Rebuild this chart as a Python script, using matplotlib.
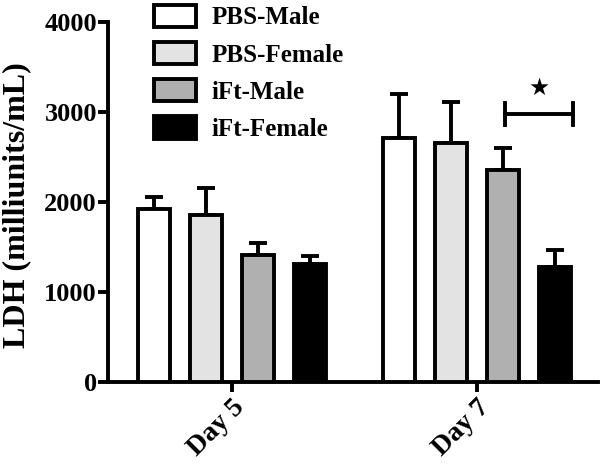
import numpy as np
import matplotlib
matplotlib.use('Agg')
import matplotlib.pyplot as plt

plt.rcParams['font.family'] = ['Liberation Serif', 'DejaVu Sans']
plt.rcParams['font.weight'] = 'bold'

days = ['Day 5', 'Day 7']
groups = ['PBS-Male', 'PBS-Female', 'iFt-Male', 'iFt-Female']
colors = ['white', '#e3e3e3', '#b0b0b0', 'black']

pbs_male = [1925, 2710]
pbs_female = [1860, 2655]
ift_male = [1415, 2355]
ift_female = [1315, 1275]
means = [pbs_male, pbs_female, ift_male, ift_female]

pbs_male_err = [130, 490]
pbs_female_err = [295, 455]
ift_male_err = [130, 245]
ift_female_err = [85, 190]
errs = [pbs_male_err, pbs_female_err, ift_male_err, ift_female_err]

lw = 2.8

fig = plt.figure(figsize=(6, 4.68), dpi=100)
ax = fig.add_axes([0.18, 0.184, 0.817, 0.769])

x = np.arange(len(days))
offsets = [-0.319, -0.106, 0.106, 0.319]
width = 0.132

for i in range(len(groups)):
    ax.bar(x + offsets[i], means[i], width, color=colors[i], edgecolor='black',
           linewidth=lw, label=groups[i], zorder=3)
    ax.errorbar(x + offsets[i], means[i], yerr=[np.zeros(len(days)), errs[i]],
                fmt='none', ecolor='black', elinewidth=lw, capsize=6.8,
                capthick=lw, zorder=2)

# significance bracket iFt-Male vs iFt-Female, Day 7
bx1, bx2, by = 1.114, 1.39, 2975
ax.plot([bx1, bx2], [by, by], color='black', lw=lw, zorder=4)
ax.plot([bx1, bx1], [by - 120, by + 120], color='black', lw=lw, zorder=4)
ax.plot([bx2, bx2], [by - 120, by + 120], color='black', lw=lw, zorder=4)
ax.text((bx1 + bx2) / 2, by + 160, '\u2605', ha='center', va='bottom',
        fontsize=17, family=['DejaVu Sans'])

ax.set_xlim(-0.506, 1.494)
ax.set_ylim(0, 4000)
ax.set_yticks([0, 1000, 2000, 3000, 4000])
ax.set_xticks(x)
ax.set_xticklabels(days, rotation=45, ha='right', rotation_mode='anchor')
ax.set_ylabel('LDH (milliunits/mL)', fontsize=23, fontweight='bold')
ax.yaxis.set_label_coords(-0.157, 0.49)

for s in ['top', 'right']:
    ax.spines[s].set_visible(False)
for s in ['left', 'bottom']:
    ax.spines[s].set_linewidth(lw)
ax.tick_params(axis='both', width=lw, length=7)
ax.tick_params(axis='y', labelsize=19, pad=1)
ax.tick_params(axis='x', labelsize=20, pad=2)

leg = ax.legend(loc='upper left', bbox_to_anchor=(0.235, 1.017),
                bbox_transform=fig.transFigure, frameon=False,
                fontsize=18, handlelength=1.68, handleheight=1.0,
                labelspacing=0.5, handletextpad=0.65, borderpad=0)

fig.savefig('out.png', dpi=100)
